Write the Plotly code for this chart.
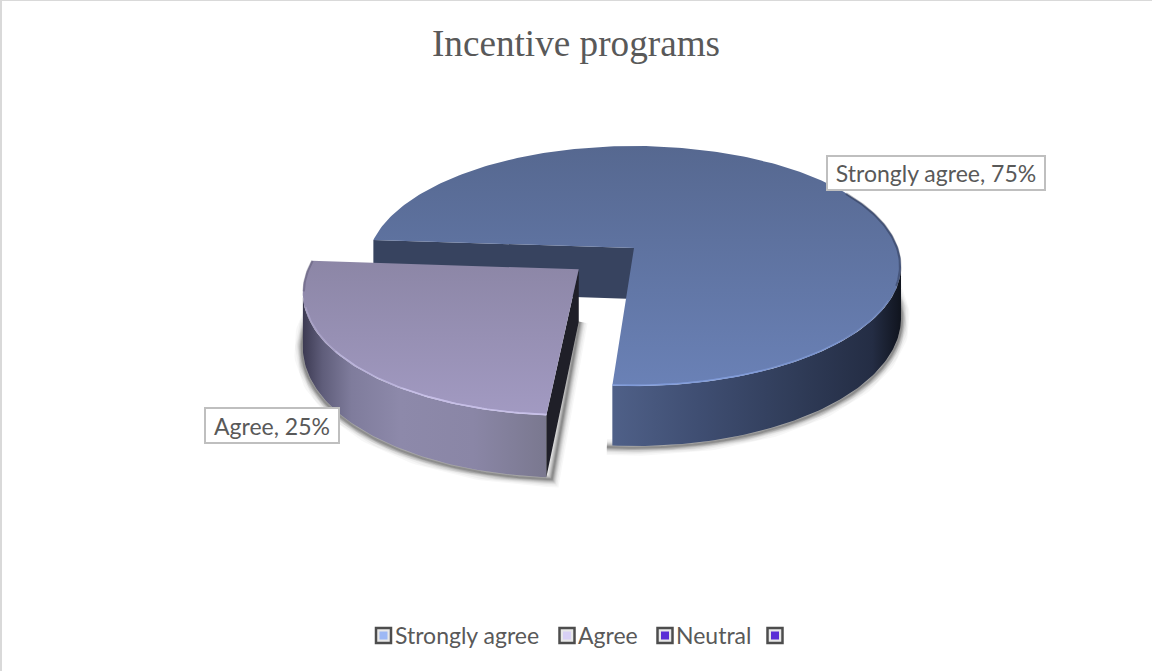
import numpy as np
import plotly.graph_objects as go

categories = ["Strongly agree", "Agree", "Neutral", ""]
shares = [75, 25, 0, 0]
explode = [0, 0.27, 0, 0]
first_slice_angle = 274
legend_colors = ["#9db8f5", "#d8d0f5", "#5a2fd6", "#5a2fd6"]

# plotly runs the vertical gradient bottom-up here because the y axis is flipped
top_colors = [("#6a81b6", "#566890"), ("#a29ac2", "#8c86a6")]
wall_colors = [
    [[0, "#4f6088"], [0.3, "#3f4e72"], [0.65, "#2f3b57"], [0.9, "#242d44"], [1, "#10141e"]],
    [[0, "#3c3a52"], [0.08, "#5f5d7a"], [0.2, "#7f7c9c"], [0.4, "#8d89aa"], [0.7, "#8a86a6"], [1, "#7a788f"]],
]
cut_colors = ["#37435f", "#1f1f28"]
rim_colors = ["138,165,230", "212,206,246"]
bevel_colors = ["rgba(10,14,30,0.3)", "rgba(50,48,70,0.25)"]

# projection of the tilted pie, in page pixels
CX, CY = 634, 248
RX, RY, DEPTH = 264, 117.3, 51
PERSP = 0.15

fig = go.Figure()


def project(theta, radius, off_u, off_v, z=0):
    rad = np.radians(theta)
    u = off_u + radius * np.sin(rad)
    v = off_v - radius * np.cos(rad)
    s = 1 / (1 - PERSP * v)
    return CX + RX * u * s, CY + (RY * v + DEPTH * z) * s


def poly(x, y, scale=None, kind="vertical", color=None):
    args = dict(x=x, y=y, mode="lines", fill="toself", line=dict(width=0), hoverinfo="skip", showlegend=False)
    if scale:
        args["fillgradient"] = dict(type=kind, colorscale=scale)
    else:
        args["fillcolor"] = color
    fig.add_trace(go.Scatter(**args))


def stroke(x, y, color, width):
    fig.add_trace(go.Scatter(x=x, y=y, mode="lines", line=dict(color=color, width=width), hoverinfo="skip", showlegend=False))


total = sum(shares)
start = first_slice_angle
for i, share in enumerate(shares):
    if share == 0:
        continue
    sweep = share / total * 360
    theta = np.arange(start, start + sweep + 0.5, 1.0)
    mid = np.radians(start + sweep / 2)
    off_u, off_v = explode[i] * np.sin(mid), -explode[i] * np.cos(mid)
    cos_t = -np.cos(np.radians(theta))

    front = theta[cos_t > PERSP]
    x_top, y_top = project(front, 1, off_u, off_v)
    x_bot, y_bot = project(front, 1, off_u, off_v, 1)

    # soft shadow under the lower edge
    wide = np.arange(start - 1, start + sweep + 1.5, 1.0)
    wide = wide[-np.cos(np.radians(wide)) > PERSP - 0.25]
    x_sh, y_sh = project(wide, 1.003, off_u, off_v, 1.02)
    if off_u or off_v:
        x_c, y_c = project(start, 0, off_u, off_v, 1)
        x_sh, y_sh = np.r_[x_c + 1, x_sh], np.r_[y_c, y_sh]
    for width, alpha in [(16, 0.03), (13, 0.04), (10, 0.05), (8, 0.07), (6, 0.09), (4, 0.12), (2, 0.15)]:
        stroke(x_sh, y_sh, f"rgba(0,0,0,{alpha})", width)

    # outer wall
    poly(np.r_[x_top, x_bot[::-1]], np.r_[y_top, y_bot[::-1]], wall_colors[i], "horizontal")

    # cut face on the slice's first edge
    cx0, cy0 = project(start, 0, off_u, off_v)
    ex0, ey0 = project(start, 1, off_u, off_v)
    cx1, cy1 = project(start, 0, off_u, off_v, 1)
    ex1, ey1 = project(start, 1, off_u, off_v, 1)
    poly([cx0, ex0, ex1, cx1], [cy0, ey0, ey1, cy1], color=cut_colors[i])

    # top face
    x_arc, y_arc = project(theta, 1, off_u, off_v)
    low, high = top_colors[i]
    poly(np.r_[cx0, x_arc], np.r_[cy0, y_arc], [[0, low], [1, high]], "vertical")

    # lit rim on the front edge, dark bevel towards the side
    lit_end = start if i == 1 else start + sweep
    for reach, alpha in [(70, 0.3), (50, 0.35), (30, 0.4)]:
        lit = front[np.abs(front - lit_end) < reach]
        x_lit, y_lit = project(lit, 0.996, off_u, off_v)
        stroke(x_lit, y_lit, f"rgba({rim_colors[i]},{alpha})", 1.6)
    gap = np.abs(theta - lit_end)
    dark = theta[(gap > 75) & (gap < 125)]
    x_dark, y_dark = project(dark, 0.997, off_u, off_v)
    stroke(x_dark, y_dark, bevel_colors[i], 2.5)

    start += sweep

# labels
label_font = dict(family="Lato", size=23, color="#595959")
fig.add_annotation(x=936, y=173, text="Strongly agree, 75%", showarrow=False, font=label_font,
                   bgcolor="#ffffff", bordercolor="#bfbfbf", borderwidth=2, width=214, height=30)
fig.add_annotation(x=272, y=425.5, text="Agree, 25%", showarrow=False, font=label_font,
                   bgcolor="#ffffff", bordercolor="#bfbfbf", borderwidth=2, width=130, height=31)

# legend row
legend_x = [383.5, 567, 665, 775]
text_x = [393, 576, 674]
legend_y = 635.5
fig.add_trace(go.Scatter(x=legend_x, y=[legend_y] * 4, mode="markers", hoverinfo="skip", showlegend=False,
                         marker=dict(symbol="square", size=15, color="#e8e8e8", line=dict(color="#4d4d4d", width=2.5))))
fig.add_trace(go.Scatter(x=legend_x, y=[legend_y] * 4, mode="markers", hoverinfo="skip", showlegend=False,
                         marker=dict(symbol="square", size=8, color=legend_colors)))
for name, x in zip(categories, text_x):
    fig.add_annotation(x=x, y=legend_y - 1, text=name, showarrow=False, xanchor="left",
                       font=dict(family="Lato", size=23, color="#595959"))

fig.add_shape(type="line", x0=0, x1=0, y0=0, y1=671, line=dict(color="#d9d9d9", width=4))
fig.add_shape(type="line", x0=0, x1=1152, y0=0, y1=0, line=dict(color="#d9d9d9", width=2))

fig.update_layout(
    title=dict(text="Incentive programs", x=0.5, xanchor="center", y=0.9365, yanchor="middle",
               font=dict(family="Liberation Serif", size=37.2, color="#595959")),
    width=1152,
    height=671,
    margin=dict(l=0, r=0, t=0, b=0),
    paper_bgcolor="#ffffff",
    plot_bgcolor="#ffffff",
    xaxis=dict(range=[0, 1152], visible=False, fixedrange=True),
    yaxis=dict(range=[671, 0], visible=False, fixedrange=True),
)

fig.write_html("out.html", config=dict(displayModeBar=False), post_script="document.body.style.margin='0';")
